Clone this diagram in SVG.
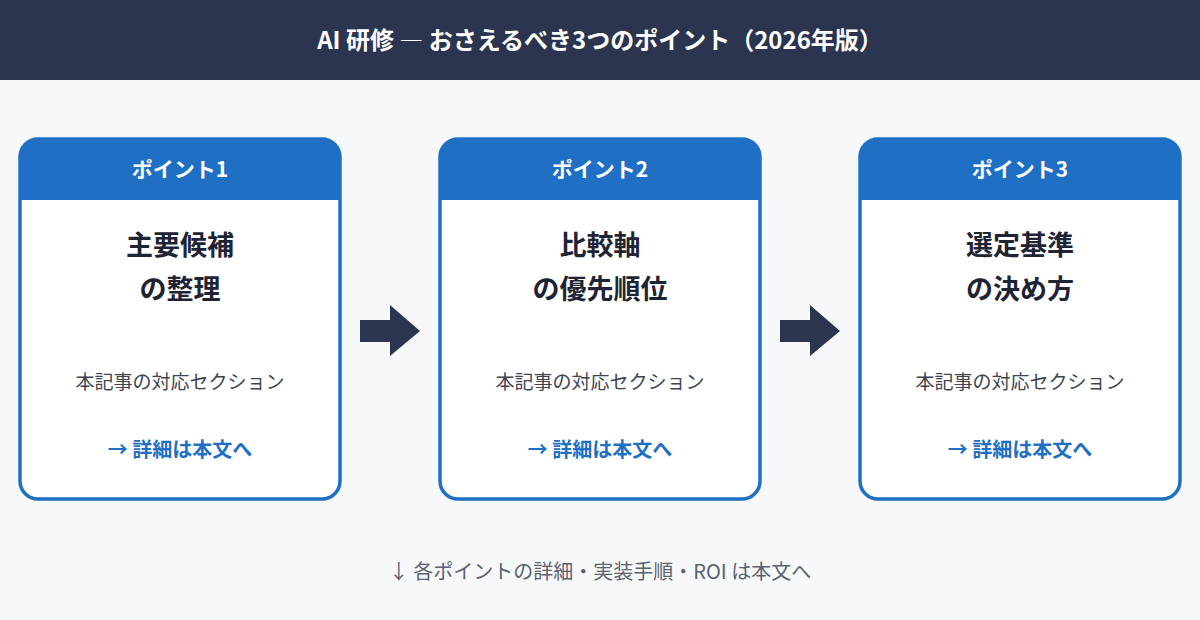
<svg xmlns="http://www.w3.org/2000/svg" width="1200" height="620" viewBox="0 0 1200 620">
<style>
.t{font-family:"Noto Sans CJK JP","Noto Sans",sans-serif;text-anchor:middle}
.card{fill:#fff;stroke:#1f6fc4;stroke-width:3.5}
.hd{fill:#1f6fc4}
.ht{fill:#fff;font-size:21px;font-weight:700}
.tt{fill:#1e2433;font-size:27px;font-weight:700}
.sub{fill:#3d4452;font-size:19px}
.lk{fill:#1f6fc4;font-size:20px;font-weight:700}
.ar{fill:#2b3550}
</style>
<rect width="1200" height="620" fill="#f6f8fa"/>
<rect width="1200" height="80" fill="#2b3550"/>
<text class="t" x="600" y="49" fill="#fff" font-size="24" font-weight="700">AI 研修 ― おさえるべき3つのポイント（2026年版）</text>
<g id="node1">
<rect class="card" x="20" y="139" width="320" height="360" rx="18"/>
<path class="hd" d="M20 200 V157 A18 18 0 0 1 38 139 H322 A18 18 0 0 1 340 157 V200 Z"/>
<text class="t ht" x="180" y="177">ポイント1</text>
<text class="t tt" x="180" y="255">主要候補</text>
<text class="t tt" x="180" y="299">の整理</text>
<text class="t sub" x="180" y="389">本記事の対応セクション</text>
<text class="t lk" x="180" y="457">→ 詳細は本文へ</text>
</g>
<g id="node2">
<rect class="card" x="440" y="139" width="320" height="360" rx="18"/>
<path class="hd" d="M440 200 V157 A18 18 0 0 1 458 139 H742 A18 18 0 0 1 760 157 V200 Z"/>
<text class="t ht" x="600" y="177">ポイント2</text>
<text class="t tt" x="600" y="255">比較軸</text>
<text class="t tt" x="600" y="299">の優先順位</text>
<text class="t sub" x="600" y="389">本記事の対応セクション</text>
<text class="t lk" x="600" y="457">→ 詳細は本文へ</text>
</g>
<g id="node3">
<rect class="card" x="860" y="139" width="320" height="360" rx="18"/>
<path class="hd" d="M860 200 V157 A18 18 0 0 1 878 139 H1162 A18 18 0 0 1 1180 157 V200 Z"/>
<text class="t ht" x="1020" y="177">ポイント3</text>
<text class="t tt" x="1020" y="255">選定基準</text>
<text class="t tt" x="1020" y="299">の決め方</text>
<text class="t sub" x="1020" y="389">本記事の対応セクション</text>
<text class="t lk" x="1020" y="457">→ 詳細は本文へ</text>
</g>
<g id="connectors">
<path class="ar" d="M360 320 H390 V305 L420 331 L390 356 V342 H360 Z"/>
<path class="ar" d="M780 320 H810 V305 L840 331 L810 356 V342 H780 Z"/>
</g>
<text class="t" x="600" y="579" fill="#5a6170" font-size="20">↓ 各ポイントの詳細・実装手順・ROI は本文へ</text>
</svg>
